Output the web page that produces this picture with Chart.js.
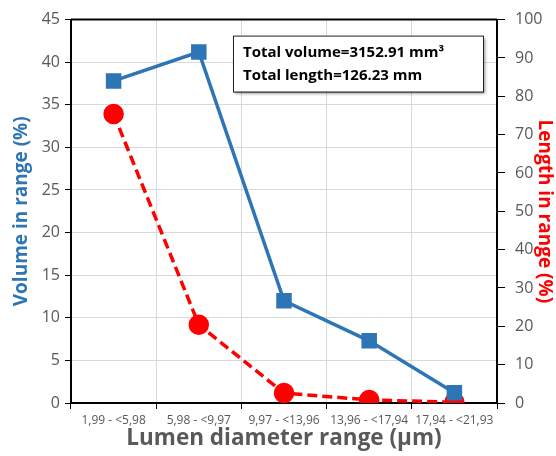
<!DOCTYPE html>
<html>
<head>
<meta charset="utf-8">
<script src="https://cdn.jsdelivr.net/npm/chart.js@4"></script>
<style>
  html, body { margin: 0; padding: 0; background: #fff; }
  #wrap { width: 556px; height: 456px; }
</style>
</head>
<body>
<div id="wrap"><canvas id="lumenChart" width="556" height="456"></canvas></div>
<script>
const categories = ["1,99 - <5,98", "5,98 - <9,97", "9,97 - <13,96", "13,96 - <17,94", "17,94 - <21,93"];
const volumeValues = [37.8, 41.2, 12.0, 7.3, 1.2];
const lengthValues = [75.4, 20.4, 2.6, 0.8, 0.2];
const summaryLines = ["Total volume=3152.91 mm\u00B3", "Total length=126.23 mm"];

const BLUE = "#2E75B6";
const RED = "#FF0000";
const TICK_GRAY = "#595959";

// frame on top of the plot area + the summary box
const framePlugin = {
  id: "frame",
  afterDraw(c) {
    const { ctx, chartArea } = c;
    ctx.save();
    ctx.strokeStyle = "#000";
    ctx.lineWidth = 2;
    ctx.beginPath();
    ctx.moveTo(chartArea.left, chartArea.top);
    ctx.lineTo(chartArea.right, chartArea.top);
    ctx.stroke();

    const x = chartArea.left + 162;
    const y = chartArea.top + 16;
    const w = 250;
    const h = 56;
    ctx.shadowColor = "rgba(0,0,0,0.45)";
    ctx.shadowOffsetX = 2;
    ctx.shadowOffsetY = 2;
    ctx.shadowBlur = 3;
    ctx.fillStyle = "#fff";
    ctx.fillRect(x, y, w, h);
    ctx.shadowColor = "transparent";
    ctx.lineWidth = 1;
    ctx.strokeStyle = "#222";
    ctx.strokeRect(x + 0.5, y + 0.5, w, h);
    ctx.fillStyle = "#000";
    ctx.font = "bold 15px 'Open Sans'";
    ctx.textBaseline = "middle";
    ctx.fillText(summaryLines[0], x + 10, y + 17);
    ctx.fillText(summaryLines[1], x + 10, y + 40);
    ctx.restore();
  },
};

new Chart(document.getElementById("lumenChart"), {
  type: "line",
  data: {
    labels: categories,
    datasets: [
      {
        label: "Volume in range (%)",
        data: volumeValues,
        yAxisID: "y",
        borderColor: BLUE,
        backgroundColor: BLUE,
        borderWidth: 3.5,
        pointStyle: "rect",
        pointRadius: 8.5,
        pointHoverRadius: 8.5,
        tension: 0,
      },
      {
        label: "Length in range (%)",
        data: lengthValues,
        yAxisID: "y1",
        borderColor: RED,
        backgroundColor: RED,
        borderWidth: 3.5,
        borderDash: [10, 5],
        pointStyle: "circle",
        pointRadius: 8.5,
        pointHoverRadius: 8.5,
        tension: 0,
      },
    ],
  },
  options: {
    responsive: false,
    animation: false,
    layout: { padding: { left: 10, right: 0, top: 14, bottom: 4 } },
    plugins: {
      legend: { display: false },
      tooltip: { enabled: false },
    },
    scales: {
      x: {
        offset: true,
        afterFit(scale) { scale.height = 49; },
        grid: { offset: true, color: "#d9d9d9", tickColor: "#000", tickLength: 6 },
        border: { color: "#000", width: 2 },
        ticks: { color: TICK_GRAY, font: { family: "'Open Sans'", size: 12 }, maxRotation: 0, autoSkip: false, padding: 4 },
        title: {
          display: true,
          text: "Lumen diameter range (\u00B5m)",
          color: TICK_GRAY,
          font: { family: "'Open Sans'", size: 22.5, weight: "bold" },
          padding: { top: 0, bottom: 0 },
        },
      },
      y: {
        position: "left",
        min: 0,
        max: 45,
        afterFit(scale) { scale.width = 61; },
        ticks: { stepSize: 5, color: TICK_GRAY, font: { family: "'Open Sans'", size: 16 }, padding: 5 },
        grid: { color: "#d9d9d9", tickColor: "#000", tickLength: 6 },
        border: { color: "#000", width: 2 },
        title: {
          display: true,
          text: "Volume in range (%)",
          color: BLUE,
          font: { family: "'Open Sans'", size: 19, weight: "bold" },
          padding: { top: 0, bottom: 0 },
        },
      },
      y1: {
        position: "right",
        min: 0,
        max: 100,
        afterFit(scale) { scale.width = 59; },
        ticks: { stepSize: 10, color: TICK_GRAY, font: { family: "'Open Sans'", size: 16 }, padding: 10 },
        grid: { drawOnChartArea: false, tickColor: "#000", tickLength: 8 },
        border: { color: "#000", width: 2 },
        title: {
          display: true,
          text: "Length in range (%)",
          color: RED,
          font: { family: "'Open Sans'", size: 19, weight: "bold" },
          padding: { top: 0, bottom: 0 },
        },
      },
    },
  },
  plugins: [framePlugin],
});
</script>
</body>
</html>
